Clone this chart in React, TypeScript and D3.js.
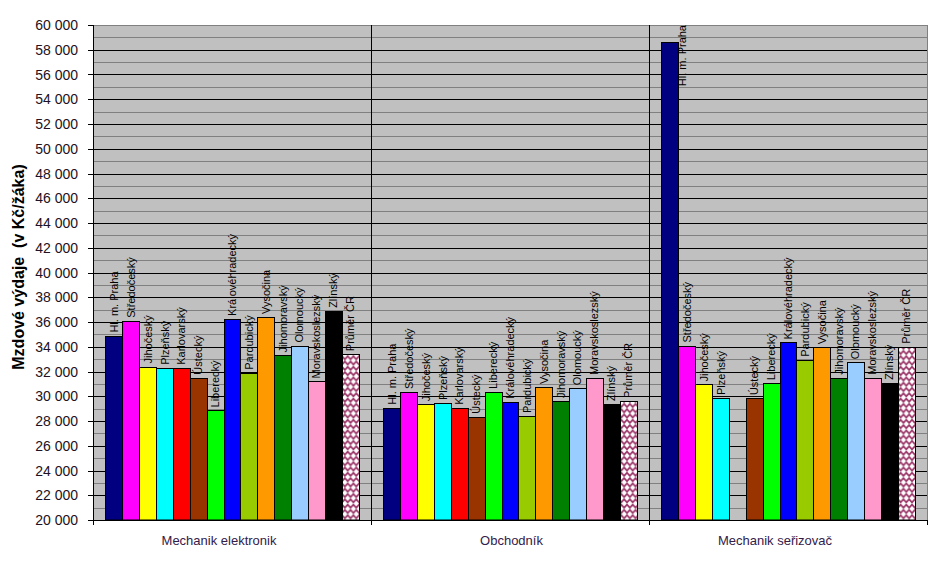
import React from "react";
import * as d3 from "d3";

const regions = [
  "Hl. m. Praha", "Středočeský", "Jihočeský", "Plzeňský", "Karlovarský", "Ústecký",
  "Liberecký", "Královéhradecký", "Pardubický", "Vysočina", "Jihomoravský",
  "Olomoucký", "Moravskoslezský", "Zlínský", "Průměr ČR",
];
const categories = ["Mechanik elektronik", "Obchodník", "Mechanik seřizovač"];

const mechanikElektronik = [34900, 36100, 32400, 32300, 32300, 31500, 28850, 36250, 31900, 36400, 33300, 34100, 31200, 36900, 33400];
const obchodnik = [29070, 30350, 29350, 29450, 29070, 28350, 30350, 29550, 28400, 30750, 29620, 30650, 31480, 29380, 29620];
const mechanikSerizovac: (number | null)[] = [58650, 34100, 30950, 29850, null, 29850, 31050, 34350, 32950, 33950, 31500, 32750, 31500, 31100, 34000];
const seriesByCategory = [mechanikElektronik, obchodnik, mechanikSerizovac];

const yTicks = d3.range(20000, 60001, 2000);
const regionColors = [
  "#000080", "#FF00FF", "#FFFF00", "#00FFFF", "#FF0000", "#993300", "#00FF00",
  "#0000FF", "#99CC00", "#FF9900", "#008000", "#99CCFF", "#FF99CC", "#000000", "url(#diamonds)",
];

const W = 945, H = 569;
const PL = 93, PR = 927, PT = 25, PB = 520;
const FONT = "'Liberation Sans', Arial, sans-serif";
const catLabelDx = [-13, 1.5, -13];

let ctx: CanvasRenderingContext2D | null = null;
function measure(text: string, font: string) {
  if (!ctx) ctx = document.createElement("canvas").getContext("2d");
  if (!ctx) return text.length * 6;
  ctx.font = font;
  return ctx.measureText(text).width;
}

export default function App() {
  const y = d3.scaleLinear().domain([20000, 60000]).range([PB, PT]);
  const x0 = d3.scaleBand<string>().domain(categories).range([PL, PR]).paddingInner(0).paddingOuter(0);
  const x1 = d3.scaleBand<string>().domain(regions).range([0, x0.bandwidth()]).paddingInner(0).paddingOuter(0.74);
  const bw = x1.bandwidth();

  const minor = d3.range(21000, 60000, 1000).filter((v) => v % 2000 !== 0);
  const major = d3.range(22000, 60000, 2000);
  const pw = 5.7, ph = 10.6, dw = 2.7, dh = 2.9;

  return (
    <svg width={W} height={H} style={{ position: "absolute", left: 0, top: 0, background: "#fff" }} fontFamily={FONT}>
      <defs>
        <pattern id="diamonds" patternUnits="userSpaceOnUse" width={pw} height={ph}>
          <rect width={pw} height={ph} fill="#993366" />
          {[[pw / 2, ph / 2], [0, 0], [pw, 0], [0, ph], [pw, ph]].map(([cx, cy], i) => (
            <polygon key={i} fill="#fff"
              points={`${cx},${cy - dh} ${cx + dw},${cy} ${cx},${cy + dh} ${cx - dw},${cy}`} />
          ))}
        </pattern>
      </defs>
      <rect x={PL} y={PT} width={PR - PL} height={PB - PT} fill="#C0C0C0" />
      {minor.map((v) => (
        <line key={"m" + v} x1={PL} x2={PR} y1={Math.round(y(v)) + 0.5} y2={Math.round(y(v)) + 0.5} stroke="#808080" />
      ))}
      {major.map((v) => (
        <line key={"M" + v} x1={PL} x2={PR} y1={Math.round(y(v)) + 0.5} y2={Math.round(y(v)) + 0.5} stroke="#000" />
      ))}
      <line x1={PL} x2={PR} y1={PT + 0.5} y2={PT + 0.5} stroke="#808080" />
      <line x1={PR + 0.5} x2={PR + 0.5} y1={PT} y2={PB} stroke="#808080" />
      {categories.slice(1).map((c) => (
        <line key={"sep" + c} x1={Math.round(x0(c)!) + 0.5} x2={Math.round(x0(c)!) + 0.5} y1={PT} y2={PB + 5} stroke="#000" />
      ))}

      {categories.map((c, ci) =>
        regions.map((r, ri) => {
          const v = seriesByCategory[ci][ri];
          if (v == null) return null;
          const bx = Math.round(x0(c)! + x1(r)!) + 0.5;
          const bx2 = Math.round(x0(c)! + x1(r)! + bw) + 0.5;
          const by = Math.round(y(v)) + 0.5;
          return (
            <rect key={c + r} x={bx} y={by} width={bx2 - bx} height={PB - by} fill={regionColors[ri]} stroke="#000" strokeWidth={1} />
          );
        })
      )}

      {categories.map((c, ci) =>
        regions.map((r, ri) => {
          const v = seriesByCategory[ci][ri];
          if (v == null) return null;
          const left = x0(c)! + x1(r)!;
          const cx = left + bw / 2;
          const top = y(v) - 3;
          const len = measure(r, `11px ${FONT}`);
          if (top - len < PT) {
            return (
              <text key={"l" + c + r} transform={`translate(${left + bw + 8},${PT}) rotate(-90)`} textAnchor="end" fontSize={11} fill="#000">
                {r}
              </text>
            );
          }
          return (
            <text key={"l" + c + r} transform={`translate(${cx + 4},${top}) rotate(-90)`} textAnchor="start" fontSize={11} fill="#000">
              {r}
            </text>
          );
        })
      )}

      <line x1={PL + 0.5} x2={PL + 0.5} y1={PT} y2={PB} stroke="#000" />
      <line x1={PL} x2={PR + 1} y1={PB + 0.5} y2={PB + 0.5} stroke="#000" />
      {[PL, PR].map((xx) => (
        <line key={"bt" + xx} x1={xx + 0.5} x2={xx + 0.5} y1={PB} y2={PB + 5} stroke="#000" />
      ))}
      {yTicks.map((v) => (
        <g key={"t" + v}>
          <line x1={PL - 5} x2={PL} y1={Math.round(y(v)) + 0.5} y2={Math.round(y(v)) + 0.5} stroke="#000" />
          <text x={78} y={y(v)} dy="0.36em" textAnchor="end" fontSize={14} fill="#221122">
            {d3.format(",")(v).replace(/,/g, " ")}
          </text>
        </g>
      ))}
      {categories.map((c, ci) => (
        <text key={"c" + c} x={x0(c)! + x0.bandwidth() / 2 + catLabelDx[ci]} y={545} textAnchor="middle" fontSize={13} fill="#33204a">
          {c}
        </text>
      ))}
      <text transform="translate(24,267) rotate(-90)" textAnchor="middle" fontSize={16} fontWeight="bold" fill="#000" style={{ whiteSpace: "pre" }}>
        {"Mzdové výdaje  (v Kč/žáka)"}
      </text>
    </svg>
  );
}
